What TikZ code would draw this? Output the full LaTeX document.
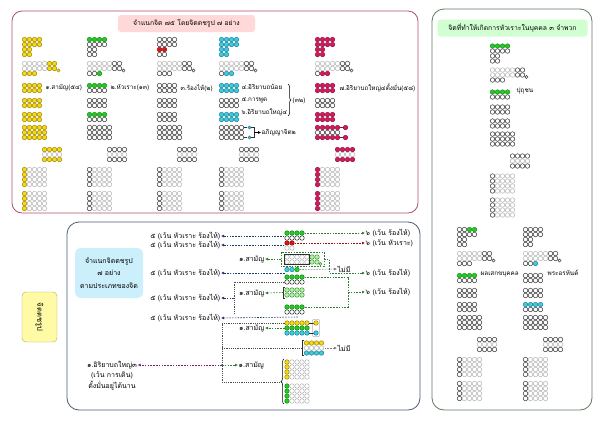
\documentclass[tikz,border=0pt]{standalone}
\usepackage{fontspec}
\setmainfont[Script=Thai]{Loma}
\usetikzlibrary{arrows.meta,decorations.pathreplacing}
\definecolor{Yf}{HTML}{F7DA12}\definecolor{Ys}{HTML}{9C8500}
\definecolor{Gf}{HTML}{22CC22}\definecolor{Gs}{HTML}{138A13}
\definecolor{Rf}{HTML}{E01515}\definecolor{Rs}{HTML}{8A0A0A}
\definecolor{Cf}{HTML}{3CCDE0}\definecolor{Cs}{HTML}{1A7F95}
\definecolor{Mf}{HTML}{D8175E}\definecolor{Ms}{HTML}{8A0C3A}
\definecolor{Kf}{HTML}{FFFFFF}\definecolor{Ks}{HTML}{303030}
\definecolor{Lf}{HTML}{FFFFFF}\definecolor{Ls}{HTML}{B5B5B5}
\definecolor{Ef}{HTML}{B8F0A8}\definecolor{Es}{HTML}{3A9A3A}
\definecolor{frA}{HTML}{B05070}\definecolor{frB}{HTML}{4A5C78}\definecolor{frC}{HTML}{5E7A5E}
\definecolor{navyA}{HTML}{1F3A6E}\definecolor{greenA}{HTML}{2E7D32}\definecolor{redA}{HTML}{A01010}
\definecolor{purpA}{HTML}{7A1F70}
\newcommand{\dotrow}[4]{\foreach \ii in {1,...,#3}{\draw[draw=#4s,fill=#4f,line width=0.5pt] ({#1+(\ii-1)*5},{#2}) circle[radius=2.25pt];}}
\newcommand{\pat}[3]{\foreach \dx/\dy/\nn/\st in {#3}{\dotrow{#1+\dx}{#2+\dy}{\nn}{\st}}}
\newcommand{\sdot}[3]{\draw[draw=#3s,fill=#3f,line width=0.5pt] ({#1},{#2}) circle[radius=1.6pt];}
\newcommand{\lok}[3]{\foreach \rr in {0,5,10,15}{\dotrow{#1}{#2+\rr}{1}{#3}\dotrow{#1+5}{#2+\rr}{4}{L}}}
\tikzset{
  lbl/.style={font=\fontsize{6.3}{7}\selectfont, inner sep=0.5pt},
  blbl/.style={font=\fontsize{7}{8}\selectfont, inner sep=0.5pt},
  arrbase/.style={dash pattern=on 1.6pt off 1.2pt, line width=0.6pt, -{Latex[length=3pt,width=3pt]}},
  arrN/.style={arrbase, draw=navyA},
  arrG/.style={arrbase, draw=greenA},
  arrR/.style={arrbase, draw=redA},
  arrP/.style={arrbase, draw=purpA},
  arrY/.style={arrbase, draw=gray},
  boxK/.style={draw=black!70, dash pattern=on 1.2pt off 1pt, line width=0.5pt},
  boxG/.style={draw=greenA, dash pattern=on 1.6pt off 1.2pt, line width=0.6pt},
}
\begin{document}
\begin{tikzpicture}[x=1pt,y=-1pt]
\useasboundingbox (0,0) rectangle (600,424);
\fill[white] (0,0) rectangle (600,424);
% ---------- top-left frame
\draw[frA, line width=0.8pt, rounded corners=10pt] (12,11) rectangle (418,213);
\node[lbl, fill=pink!60, rounded corners=3pt, minimum width=137pt, minimum height=17pt, font=\fontsize{6.8}{7}\selectfont] (tA) at (186.5,23.5) {จำแนกจิต ๗๕ โดยจิตตชรูป ๗ อย่าง};
% col 1
\pat{24.5}{39.5}{0/0/4/Y,0/5/4/Y,0/10/2/Y,0/15/2/Y,0/24/5/L,0/29/5/L,25/24/2/Y,25/29/2/Y,0/34/3/Y,0/46/4/Y,0/51/4/Y,0/61/4/Y,0/66/4/Y,0/75/4/Y,0/80/4/Y,0/88/5/Y,0/93/5/Y,0/98/5/Y,20/110/4/Y,20/115/4/L,20/120/4/Y}
\sdot{58.5}{70.5}{Y}
\lok{24.5}{169.5}{Y}\lok{24.5}{193.5}{Y}
% col 2
\pat{89.5}{39.5}{0/0/4/G,0/5/4/K,0/10/2/K,0/15/2/K,0/24/5/L,0/29/5/L,25/24/2/K,25/29/2/K,0/34/2/K,10/34/1/G,0/46/4/G,0/51/4/K,0/61/4/K,0/66/4/K,0/75/4/G,0/80/4/K,0/88/5/K,0/93/5/K,0/98/5/K,20/110/4/K,20/115/4/L,20/120/4/K}
\sdot{123.5}{70.5}{K}
\lok{89.5}{169.5}{K}\lok{89.5}{193.5}{K}
% col 3
\pat{159.5}{39.5}{0/0/4/K,0/5/4/K,0/10/2/R,0/15/2/K,0/24/5/L,0/29/5/L,25/24/2/K,25/29/2/K,0/34/3/K,0/46/4/K,0/51/4/K,0/61/4/K,0/66/4/K,0/75/4/K,0/80/4/K,0/88/5/K,0/93/5/K,0/98/5/K,20/110/4/K,20/115/4/L,20/120/4/K}
\sdot{193.5}{70.5}{K}
\lok{159.5}{169.5}{K}\lok{159.5}{193.5}{K}
% col 4
\pat{221.5}{39.5}{0/0/4/C,0/5/4/C,0/10/2/C,0/15/2/C,0/24/5/L,0/29/5/L,25/24/2/K,25/29/2/K,0/34/1/K,5/34/2/C,0/46/4/C,0/51/4/C,0/61/4/K,0/66/4/K,0/75/4/C,0/80/4/C,0/88/5/K,0/93/5/K,0/98/5/K,20/110/4/K,20/115/4/L,20/120/4/K}
\sdot{255.5}{70.5}{K}
\lok{221.5}{169.5}{K}\lok{221.5}{193.5}{K}
\draw[Ks, line width=0.5pt] (243.7,127.5) -- (247.3,127.5) (243.7,137.5) -- (247.3,137.5);
\sdot{249.5}{127.5}{C}\sdot{249.5}{137.5}{C}
\draw[Ks, line width=0.5pt] (251.3,127.5) -- (254,127.5) -- (254,137.5) -- (251.3,137.5);
\node[lbl, anchor=west] (abh) at (261,132.5) {อภิญญาจิต๒};
\coordinate (abhs) at (254,132.5);
\draw[-{Latex[length=3pt,width=3pt]}, line width=0.5pt] (abhs) -- (abh.west);
% col 5
\pat{317.5}{39.5}{0/0/4/M,0/5/4/M,0/10/2/M,0/15/2/M,0/24/5/L,0/29/5/L,25/24/2/K,25/29/2/K,0/34/1/K,5/34/2/M,0/46/4/M,0/51/4/M,0/61/4/K,0/66/4/K,0/75/4/M,0/80/4/M,0/88/5/M,0/93/5/K,0/98/5/M,20/110/4/M,20/115/4/L,20/120/4/M}
\sdot{351.5}{70.5}{K}
\draw[Ms, line width=0.5pt] (339.7,127.5) -- (344,127.5) (339.7,137.5) -- (344,137.5);
\dotrow{345.5}{127.5}{1}{M}\dotrow{345.5}{137.5}{1}{M}
\lok{317.5}{169.5}{M}\lok{317.5}{193.5}{M}
% labels
\node[lbl, anchor=west] (l1) at (45,88) {๑.สามัญ(๕๔)};
\node[lbl, anchor=west] (l2) at (110,88) {๒.หัวเราะ(๑๓)};
\node[lbl, anchor=west] (l3) at (180,88) {๓.ร้องไห้(๒)};
\node[lbl, anchor=west] (l4) at (241,87) {๔.อิริยาบถน้อย};
\node[lbl, anchor=west] (l5) at (241,100) {๕.การพูด};
\node[lbl, anchor=west] (l6) at (241,112) {๖.อิริยาบถใหญ่๔};
\draw[decorate, decoration={brace, amplitude=3pt}, line width=0.5pt] (288,84) -- (288,116);
\node[lbl, anchor=west] (l32) at (292,101) {(๓๒)};
\node[lbl, anchor=west] (l7) at (339,88) {๗.อิริยาบถใหญ่๔ตั้งมั่น(๕๘)};
% ---------- right frame
\draw[frC, line width=0.8pt, rounded corners=12pt] (432,9) rectangle (592,410);
\node[lbl, fill=green!18, rounded corners=3pt, minimum width=150pt, minimum height=17pt, font=\fontsize{6.8}{7}\selectfont] (tC) at (512.5,28) {จิตที่ทำให้เกิดการหัวเราะในบุคคล ๓ จำพวก};
\pat{492.5}{46}{0/0/4/G,0/5/4/K,0/10/2/K,0/15/2/K,0/24/5/L,0/29/5/L,25/24/2/K,25/29/2/K,0/34/3/K,0/46/4/G,0/51/4/K,0/61/4/K,0/66/4/K,0/75/4/K,0/80/4/K,0/88/5/K,0/93/5/K,0/98/5/K,20/110/4/K,20/115/4/L,20/120/4/K}
\sdot{526.5}{77}{K}
\lok{492.5}{176}{K}\lok{492.5}{200}{K}
\node[lbl, anchor=west] (pu) at (516,91) {ปุถุชน};
\pat{459.5}{229.5}{0/0/2/K,10/0/2/G,0/5/4/K,0/10/2/K,0/15/2/K,0/24/5/L,0/29/5/L,25/24/2/K,25/29/2/K,0/34/3/K,0/46/4/G,0/51/4/K,0/61/4/K,0/66/4/K,0/75/4/K,0/80/4/K,0/88/5/K,0/93/5/K,0/98/5/K,20/110/4/K,20/115/4/L,20/120/4/K}
\sdot{493.5}{260.5}{K}
\lok{459.5}{359.5}{K}\lok{459.5}{383.5}{K}
\node[lbl, anchor=west] (se) at (480,274) {ผลเสกขบุคคล};
\pat{525.5}{229.5}{0/0/4/K,0/5/4/K,0/10/2/K,0/15/2/K,0/24/5/L,0/29/5/L,25/24/2/K,25/29/2/K,0/34/2/K,10/34/1/C,0/46/4/K,0/51/4/K,0/61/4/K,0/66/4/K,0/75/4/C,0/80/4/K,0/88/5/K,0/93/5/K,0/98/5/K,20/110/4/K,20/115/4/L,20/120/4/K}
\sdot{559.5}{260.5}{K}
\lok{525.5}{359.5}{K}\lok{525.5}{383.5}{K}
\node[lbl, anchor=west] (ar) at (547,273) {พระอรหันต์};
% ---------- yellow side box
\node[draw=Ys!70, fill=yellow!35, rounded corners=4pt, rotate=-90, minimum width=50pt, minimum height=35pt, inner sep=0.5pt, font=\fontsize{7.5}{8}\selectfont] (ybox) at (39.5,317) {จิตตชรูป};
% ---------- bottom frame
\draw[frB, line width=0.8pt, rounded corners=12pt] (67,222) rectangle (420,410);
\node[fill=cyan!20, rounded corners=6pt, minimum width=68pt, minimum height=50pt, inner sep=0.5pt, align=center, font=\fontsize{7}{12.5}\selectfont] (cbox) at (109,273) {จำแนกจิตตชรูป\\๗ อย่าง\\ตามประเภทของจิต};
% left texts
\node[blbl, anchor=east] (t1) at (221,236) {๕ (เว้น หัวเราะ ร้องไห้)};
\node[blbl, anchor=east] (t2) at (221,245) {๕ (เว้น หัวเราะ ร้องไห้)};
\node[blbl, anchor=east] (t3) at (221,273) {๕ (เว้น หัวเราะ ร้องไห้)};
\node[blbl, anchor=east] (t4) at (221,298) {๕ (เว้น หัวเราะ ร้องไห้)};
\node[blbl, anchor=east] (t5) at (221,318) {๕ (เว้น หัวเราะ ร้องไห้)};
% right texts
\node[blbl, anchor=west] (r1) at (365,233) {๖ (เว้น ร้องไห้)};
\node[blbl, anchor=west] (r2) at (365,243) {๖ (เว้น หัวเราะ)};
\node[blbl, anchor=west] (r3) at (365,273) {๖ (เว้น ร้องไห้)};
\node[blbl, anchor=west] (r4) at (365,292) {๖ (เว้น ร้องไห้)};
\node[blbl, anchor=west] (n1) at (337,269) {ไม่มี};
\node[blbl, anchor=west] (n2) at (337,348) {ไม่มี};
\node[blbl, anchor=east] (s1) at (265,259) {๑.สามัญ};
\node[blbl, anchor=east] (s2) at (265,293) {๑.สามัญ};
\node[blbl, anchor=east] (s3) at (265,328) {๑.สามัญ};
\node[blbl, anchor=west] (s4) at (238,365) {๑.สามัญ};
\node[blbl] (m1) at (112,365) {๑.อิริยาบถใหญ่๓};
\node[blbl] (m2) at (112,375.5) {(เว้น การเดิน)};
\node[blbl] (m3) at (112,386) {ตั้งมั่นอยู่ได้นาน};
% dots group 1,2
\pat{287}{0}{0/233/4/G,0/238/4/K,0/243/2/R,0/248/2/L}
\coordinate (g1r) at (304.5,233); \coordinate (g1l) at (284.3,236);
\coordinate (g2r) at (294.5,243); \coordinate (g2l) at (284.3,245);
\draw[arrG] (g1r) -- (r1.west);
\draw[arrR] (g2r) -- (r2.west);
\draw[arrN] (g1l) -- (t1.east);
\draw[arrN] (g2l) -- (t2.east);
% group 3 (ahetuka)
\pat{287}{0}{0/257/5/L,0/262/5/L,25/257/2/E,25/262/2/E,0/269.5/2/C,10/269.5/1/G}
\sdot{320.5}{264}{E}
\draw[Ks, line width=0.5pt] (284.4,254.4) rectangle (309.6,264.6);
\draw[boxG] (281,252) rectangle (324,266.5);
\coordinate (g3l) at (281,259); \coordinate (g3r) at (324,259);
\coordinate (g3d) at (299.5,269.5); \coordinate (g3b) at (284.5,273);
\draw[arrG] (g3l) -- (s1.east);
\draw[arrY] (g3d) -- (n1.west);
\draw[arrG] (g3r) -- (329,259) -- (329,273) -- (r3.west);
\draw[arrN] (g3b) -- (t3.east);
% group 4
\pat{287}{0}{0/277/4/G,0/282/4/K,0/290/4/E,0/295/4/E,0/307/4/G,0/312/4/K}
\draw[Ks, line width=0.5pt] (285,287) -- (283.3,287) -- (283.3,298) -- (285,298);
\coordinate (g4b) at (283.3,292.5);
\draw[arrG] (g4b) -- (s2.east);
\coordinate (g4a) at (304.5,277); \coordinate (g4c) at (304.5,307); \coordinate (g4m) at (348,292);
\draw[boxG] (g4a) -- (348,277) -- (348,307) -- (g4c);
\draw[arrG] (g4m) -- (r4.west);
\coordinate (g4k) at (284.5,282); \coordinate (g4j) at (234,298);
\draw[boxK] (g4k) -- (234,282) -- (234,314);
\draw[arrN] (g4j) -- (t4.east);
\coordinate (g4e) at (298,317);
\draw[arrN] (g4e) -- (t5.east);
% group 5 (rupa)
\pat{287}{0}{0/323/5/Y,0/328/5/G,0/333/5/C}
\draw[Ls, rounded corners=2pt, line width=0.5pt] (312.3,319.3) rectangle (319.7,336.7);
\draw[Ks, line width=0.4pt] (309.2,323) -- (313.8,323) (309.2,333) -- (313.8,333);
\dotrow{316}{323}{1}{Y}\dotrow{316}{333}{1}{C}
\coordinate (g5l) at (284.5,328);
\draw[arrG] (g5l) -- (s3.east);
\coordinate (g5t) at (284.5,323);
\draw[boxK] (g5t) -- (222,323) -- (222,382) -- (281,382);
% arupa
\pat{306.5}{0}{0/343/4/Y,0/348/4/L,0/353/4/C}
\draw[Ks, line width=0.5pt] (304,340.5) -- (302,340.5) -- (302,355.5) -- (304,355.5);
\coordinate (g6l) at (302,348); \coordinate (g6r) at (324.5,348);
\draw[boxK] (222,348) -- (g6l);
\draw[arrY] (g6r) -- (n2.west);
% magenta & lok
\coordinate (jn) at (222,365);
\fill[black!70] (jn) circle[radius=1pt];
\draw[arrP] (jn) -- (m1.east);
\draw[arrG] (jn) -- (s4.west);
\lok{287}{362}{Y}\lok{287}{386}{G}
\draw[decorate, decoration={brace, amplitude=3pt}, line width=0.5pt] (284,404) -- (284,359);
\end{tikzpicture}
\end{document}
